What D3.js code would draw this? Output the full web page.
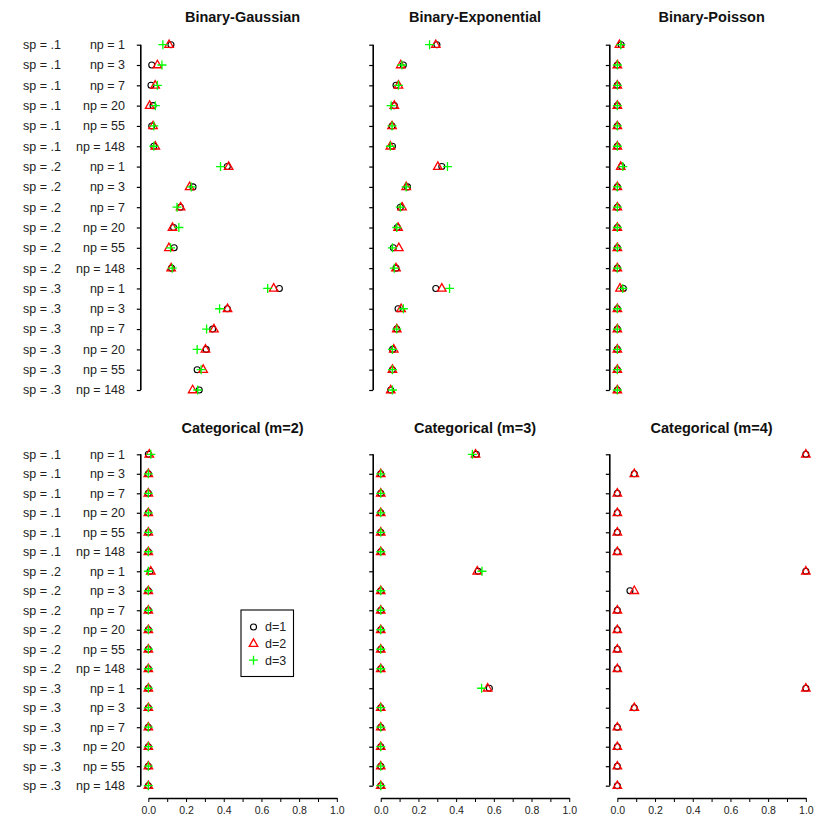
<!DOCTYPE html>
<html>
<head>
<meta charset="utf-8">
<script src="https://cdn.jsdelivr.net/npm/d3@7"></script>
<style>
  body { margin: 0; background: #fff; }
  text { font-family: "Liberation Sans", Arial, Helvetica, sans-serif; }
</style>
</head>
<body>
<div id="chart"></div>
<script>
var width = 830, height = 830;

// row categories
var spLabels = [".1", ".2", ".3"];
var npLabels = [1, 3, 7, 20, 55, 148];

var titles = ["Binary-Gaussian", "Binary-Exponential", "Binary-Poisson",
              "Categorical (m=2)", "Categorical (m=3)", "Categorical (m=4)"];
var legendLabels = ["d=1", "d=2", "d=3"];
var xTicks = [0, 0.1, 0.2, 0.3, 0.4, 0.5, 0.6, 0.7, 0.8, 0.9, 1.0];

// values per panel, one array per d (18 rows: sp .1 np 1..148, sp .2 ..., sp .3 ...)
var gaussD1 = [0.12, 0.018, 0.014, 0.025, 0.018, 0.029, 0.419, 0.237, 0.17, 0.134, 0.137, 0.123, 0.695, 0.419, 0.341, 0.307, 0.259, 0.27];
var gaussD2 = [0.11, 0.048, 0.036, 0.007, 0.025, 0.037, 0.426, 0.219, 0.171, 0.128, 0.109, 0.121, 0.665, 0.42, 0.348, 0.303, 0.291, 0.235];
var gaussD3 = [0.077, 0.072, 0.048, 0.037, 0.029, 0.029, 0.383, 0.228, 0.152, 0.162, 0.118, 0.127, 0.633, 0.378, 0.309, 0.259, 0.28, 0.262];

var expoD1 = [0.298, 0.12, 0.081, 0.072, 0.06, 0.062, 0.324, 0.142, 0.104, 0.088, 0.067, 0.081, 0.292, 0.092, 0.085, 0.063, 0.062, 0.053];
var expoD2 = [0.292, 0.106, 0.094, 0.072, 0.06, 0.051, 0.303, 0.135, 0.113, 0.092, 0.096, 0.081, 0.324, 0.108, 0.085, 0.069, 0.062, 0.053];
var expoD3 = [0.259, 0.112, 0.094, 0.055, 0.06, 0.051, 0.354, 0.135, 0.104, 0.085, 0.062, 0.072, 0.365, 0.12, 0.085, 0.062, 0.062, 0.062];

var poisD1 = [0.02, 0, 0, 0, 0, 0, 0.023, 0, 0, 0, 0, 0, 0.032, 0, 0, 0, 0, 0];
var poisD2 = [0.011, 0, 0, 0, 0, 0, 0.018, 0, 0, 0, 0, 0, 0.014, 0, 0, 0, 0, 0];
var poisD3 = [0.018, 0, 0, 0, 0, 0, 0.029, 0, 0, 0, 0, 0, 0.029, 0, 0, 0, 0, 0];

var cat2D1 = [0, 0, 0, 0, 0, 0, 0.009, 0, 0, 0, 0, 0, 0, 0, 0, 0, 0, 0];
var cat2D2 = [0.005, 0, 0, 0, 0, 0, 0.013, 0, 0, 0, 0, 0, 0, 0, 0, 0, 0, 0];
var cat2D3 = [0.013, 0, 0, 0, 0, 0, 0, 0, 0, 0, 0, 0, 0, 0, 0, 0, 0, 0];

var cat3D1 = [0.507, 0, 0, 0, 0, 0, 0.517, 0, 0, 0, 0, 0, 0.576, 0, 0, 0, 0, 0];
var cat3D2 = [0.503, 0, 0, 0, 0, 0, 0.512, 0, 0, 0, 0, 0, 0.567, 0, 0, 0, 0, 0];
var cat3D3 = [0.486, 0, 0, 0, 0, 0, 0.537, 0, 0, 0, 0, 0, 0.535, 0, 0, 0, 0, 0];

var cat4D1 = [1, 0.09, 0, 0, 0, 0, 1, 0.067, 0, 0, 0, 0, 1, 0.09, 0, 0, 0, 0];
var cat4D2 = [1, 0.09, 0, 0, 0, 0, 1, 0.09, 0, 0, 0, 0, 1, 0.09, 0, 0, 0, 0];
var cat4D3 = null; // not shown for m=4

var panelSeries = [
  [gaussD1, gaussD2, gaussD3],
  [expoD1, expoD2, expoD3],
  [poisD1, poisD2, poisD3],
  [cat2D1, cat2D2, cat2D3],
  [cat3D1, cat3D2, cat3D3],
  [cat4D1, cat4D2, cat4D3]
];

var rows = [];
spLabels.forEach(function (sp) {
  npLabels.forEach(function (np) { rows.push({sp: sp, np: np}); });
});

var svg = d3.select("#chart").append("svg")
    .attr("width", width)
    .attr("height", height);

// plot box geometry (R style, 4% padding on x)
var boxLeft = [140.8, 373.2, 609.8];
var unitW = 188.5;
var rowTop = [44.7, 454.3];
var rowBottom = [390, 785.7];
var titleY = [22, 433];

var colors = ["#000000", "#ff0000", "#00ff00"];

function triPath(s) {
  return "M0," + (-s * 0.95) + "L" + (s * 0.85) + "," + (s * 0.55) + "L" + (-s * 0.85) + "," + (s * 0.55) + "Z";
}
function plusPath(s) {
  return "M" + (-s) + ",0L" + s + ",0M0," + (-s) + "L0," + s;
}

function drawMarker(g, type, x, y) {
  if (type === 0) {
    g.append("circle").attr("cx", x).attr("cy", y).attr("r", 3)
      .attr("fill", "none").attr("stroke", colors[0]).attr("stroke-width", 1.1);
  } else if (type === 1) {
    g.append("path").attr("d", triPath(5)).attr("transform", "translate(" + x + "," + y + ")")
      .attr("fill", "none").attr("stroke", colors[1]).attr("stroke-width", 1.3);
  } else {
    g.append("path").attr("d", plusPath(4.5)).attr("transform", "translate(" + x + "," + y + ")")
      .attr("fill", "none").attr("stroke", colors[2]).attr("stroke-width", 1.3);
  }
}

panelSeries.forEach(function (series, p) {
  var col = p % 3, r = Math.floor(p / 3);
  var x = d3.scaleLinear().domain([0, 1])
      .range([boxLeft[col] + 0.04 * unitW, boxLeft[col] + 1.04 * unitW]);
  var y = d3.scalePoint().domain(d3.range(rows.length))
      .range([rowTop[r], rowBottom[r]]);

  var g = svg.append("g");

  // title
  g.append("text")
    .attr("x", boxLeft[col] + 0.54 * unitW)
    .attr("y", titleY[r])
    .attr("text-anchor", "middle")
    .attr("font-size", "14.5px")
    .attr("font-weight", "bold")
    .attr("fill", "#111")
    .text(titles[p]);

  // y axis: line + ticks only
  var yAxis = g.append("g")
    .attr("transform", "translate(" + boxLeft[col] + ",0)")
    .call(d3.axisLeft(y).tickSize(4).tickSizeOuter(0).tickFormat(""));
  yAxis.select(".domain").attr("d", "M0," + y(0) + "V" + y(rows.length - 1))
    .attr("stroke", "#000").attr("stroke-width", 1.6);
  yAxis.selectAll(".tick line").attr("stroke-width", 1.2);

  // row labels on first column
  if (col === 0) {
    g.selectAll(".sp").data(rows).enter().append("text")
      .attr("x", 23).attr("y", function (d, i) { return y(i); })
      .attr("dy", "0.35em").attr("font-size", "12.5px").attr("fill", "#222")
      .text(function (d) { return "sp = " + d.sp; });
    g.selectAll(".np").data(rows).enter().append("text")
      .attr("x", 125).attr("y", function (d, i) { return y(i); })
      .attr("dy", "0.35em").attr("text-anchor", "end").attr("font-size", "12.5px").attr("fill", "#222")
      .text(function (d) { return "np = " + d.np; });
  }

  // x axis on bottom row
  if (r === 1) {
    var xAxis = g.append("g")
      .attr("transform", "translate(0,798)")
      .call(d3.axisBottom(x).tickValues(xTicks).tickSize(4).tickSizeOuter(0)
        .tickFormat(function (d, i) { return i % 2 === 0 ? d3.format(".1f")(d) : ""; }));
    xAxis.select(".domain").attr("stroke-width", 1.3);
    xAxis.selectAll(".tick text").attr("font-size", "10.5px")
      .attr("font-family", "Liberation Sans, Arial, sans-serif").attr("fill", "#222")
      .attr("dy", "0.9em");
  }

  // points: d=1 circles, d=2 triangles, d=3 crosses
  series.forEach(function (vals, k) {
    if (!vals) return;
    vals.forEach(function (v, i) {
      drawMarker(g, k, x(v), y(i));
    });
  });
});

// legend in bottom-left panel
var lg = svg.append("g").attr("transform", "translate(241,610)");
lg.append("rect").attr("width", 52.5).attr("height", 66.5)
  .attr("fill", "#fff").attr("stroke", "#000").attr("stroke-width", 1.1);
legendLabels.forEach(function (lab, k) {
  drawMarker(lg, k, 12.5, 17 + k * 16.6);
  lg.append("text").attr("x", 24).attr("y", 17 + k * 16.6).attr("dy", "0.35em")
    .attr("font-size", "12.5px").attr("fill", "#222").text(lab);
});
</script>
</body>
</html>
